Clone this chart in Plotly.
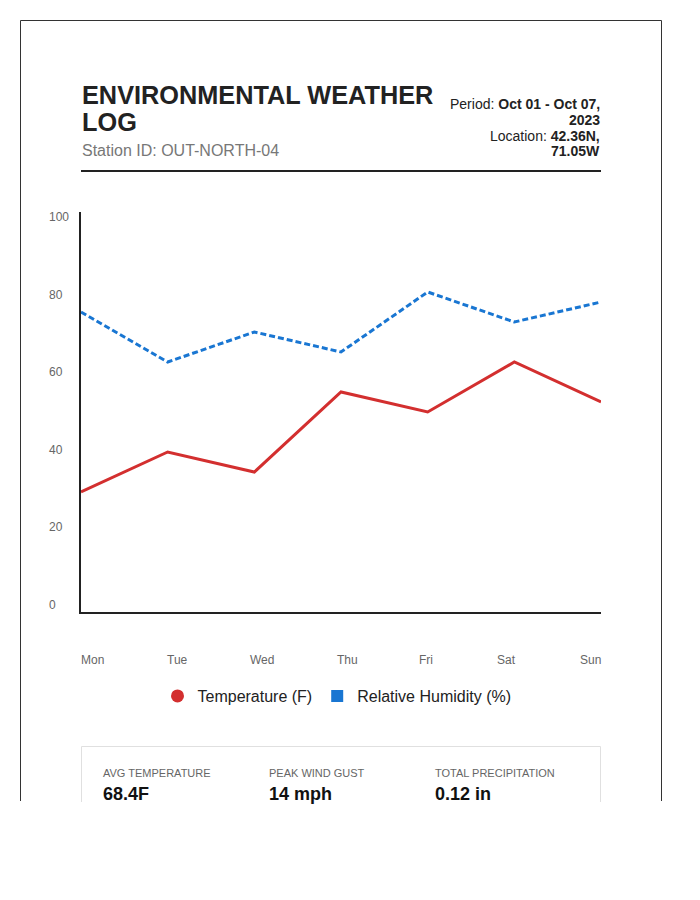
import plotly.graph_objects as go

# ---------------- data ----------------
days = ["Mon", "Tue", "Wed", "Thu", "Fri", "Sat", "Sun"]
temperature_f = [30, 40, 35, 55, 50, 62.5, 52.5]
humidity_pct = [75, 62.5, 70, 65, 80, 72.5, 77.5]
y_tick_labels = ["100", "80", "60", "40", "20", "0"]

title_lines = ["ENVIRONMENTAL WEATHER", "LOG"]
station = "Station ID: OUT-NORTH-04"
meta_lines = ["Period: <b>Oct 01 - Oct 07,</b>", "<b>2023</b>",
              "Location: <b>42.36N,</b>", "<b>71.05W</b>"]
stat_labels = ["AVG TEMPERATURE", "PEAK WIND GUST", "TOTAL PRECIPITATION"]
stat_values = ["68.4F", "14 mph", "0.12 in"]

# ---------------- layout geometry (pixels) ----------------
W, H = 700, 900
L, R, T, B = 81, 601, 212, 612
FONT = "Liberation Sans, Arial, Helvetica, sans-serif"
RED = "#d32f2f"
BLUE = "#1976d2"
INK = "#222222"


def px(x):
    return (x - L) / (R - L)


def py(y):
    return (B - y) / (B - T)


fig = go.Figure()
fig.add_trace(go.Scatter(x=list(range(len(days))), y=temperature_f, mode="lines",
                         line=dict(color=RED, width=3), showlegend=False,
                         hoverinfo="skip"))
fig.add_trace(go.Scatter(x=list(range(len(days))), y=humidity_pct, mode="lines",
                         line=dict(color=BLUE, width=3, dash="6px,3px"),
                         showlegend=False, hoverinfo="skip"))
# legend entries
fig.add_trace(go.Scatter(x=[None], y=[None], mode="markers", name="Temperature (F)",
                         marker=dict(symbol="circle", size=13, color=RED)))
fig.add_trace(go.Scatter(x=[None], y=[None], mode="markers", name="Relative Humidity (%)",
                         marker=dict(symbol="square", size=12, color=BLUE)))

ann = []
shapes = []

# title block
ann.append(dict(text=title_lines[0], x=px(81), y=py(95), xanchor="left", yanchor="middle",
                font=dict(size=25.3, color=INK, family=FONT, weight="bold")))
ann.append(dict(text=title_lines[1], x=px(81), y=py(122), xanchor="left", yanchor="middle",
                font=dict(size=25.3, color=INK, family=FONT, weight="bold")))
ann.append(dict(text=station, x=px(81), y=py(150), xanchor="left", yanchor="middle",
                font=dict(size=16, color="#777777", family=FONT)))
for i, t in enumerate(meta_lines):
    ann.append(dict(text=t, x=px(601), y=py(104 + i * 15.8), xanchor="right",
                    yanchor="middle", font=dict(size=14, color=INK, family=FONT)))

# y tick labels (column with space-between distribution)
for i, t in enumerate(y_tick_labels):
    ann.append(dict(text=t, x=px(48), y=py(217 + i * 77.6), xanchor="left",
                    yanchor="middle", font=dict(size=12, color="#666666", family=FONT)))

# x tick labels (row with space-between distribution)
label_w = [23, 20, 23, 20, 12, 21, 21]
gap = ((R - L) - sum(label_w)) / (len(days) - 1)
xpos = L
for d, w in zip(days, label_w):
    ann.append(dict(text=d, x=px(xpos + w / 2), y=py(660), xanchor="center",
                    yanchor="middle", font=dict(size=12, color="#666666", family=FONT)))
    xpos += w + gap

# stats box
for i, (lab, val) in enumerate(zip(stat_labels, stat_values)):
    x0 = 102 + i * 166
    ann.append(dict(text=lab, x=px(x0), y=py(773), xanchor="left", yanchor="middle",
                    font=dict(size=11, color="#666666", family=FONT)))
    ann.append(dict(text=val, x=px(x0), y=py(794), xanchor="left", yanchor="middle",
                    font=dict(size=18, color="#111111", family=FONT, weight="bold")))

for a in ann:
    a.update(xref="paper", yref="paper", showarrow=False, borderpad=0)


def line(x0, y0, x1, y1, color, width):
    shapes.append(dict(type="line", xref="paper", yref="paper",
                       x0=px(x0), y0=py(y0), x1=px(x1), y1=py(y1),
                       line=dict(color=color, width=width)))


# card border (clipped at bottom)
line(20.5, 20.5, 661.5, 20.5, "#333333", 1)
line(20.5, 20.5, 20.5, 801, "#333333", 1)
line(661.5, 20.5, 661.5, 801, "#333333", 1)
# header rule
line(81, 171, 601, 171, INK, 2)
# stats box
shapes.append(dict(type="rect", xref="paper", yref="paper", x0=px(81.5), x1=px(600.5),
                   y0=py(746.5), y1=py(860), line=dict(color="#e0e0e0", width=1),
                   fillcolor="rgba(0,0,0,0)", layer="below"))
# clipping cover below the card
shapes.append(dict(type="rect", xref="paper", yref="paper", x0=px(0), x1=px(W),
                   y0=py(802), y1=py(H + 5), line=dict(width=0), fillcolor="white",
                   layer="above"))

fig.update_layout(
    width=W, height=H,
    margin=dict(l=L, r=W - R, t=T, b=H - B, pad=0),
    paper_bgcolor="white", plot_bgcolor="white",
    font=dict(family=FONT, color=INK),
    xaxis=dict(range=[0, len(days) - 1], showgrid=False, zeroline=False,
               showticklabels=False, ticks="", showline=True, linecolor=INK,
               linewidth=2, fixedrange=True),
    yaxis=dict(range=[0, 100], showgrid=False, zeroline=False, showticklabels=False,
               ticks="", showline=True, linecolor=INK, linewidth=2, fixedrange=True),
    legend=dict(orientation="h", x=px(337), xanchor="center", y=py(696), yanchor="middle",
                font=dict(size=16, color=INK, family=FONT), bgcolor="rgba(0,0,0,0)",
                itemclick=False, itemdoubleclick=False),
    annotations=ann, shapes=shapes, hovermode=False,
)

fig.write_html("out.html", config={"displayModeBar": False})
